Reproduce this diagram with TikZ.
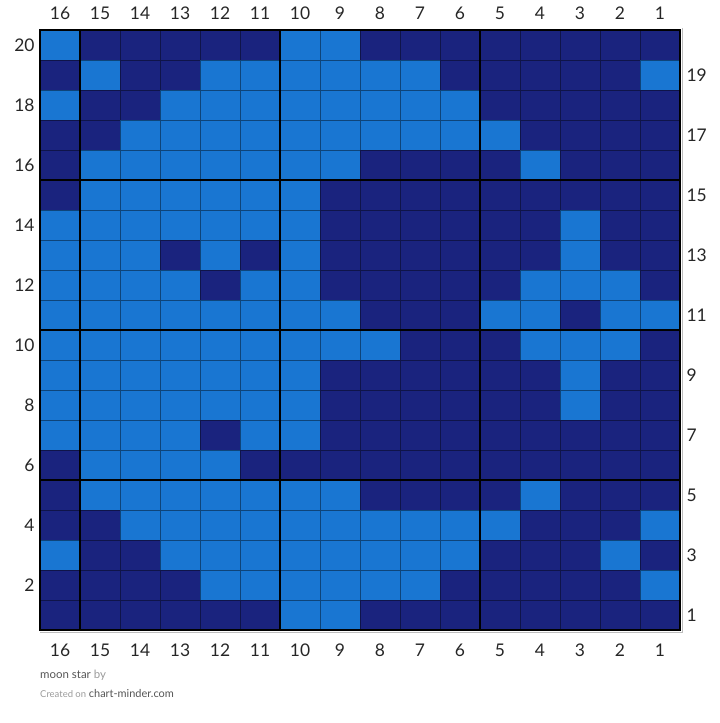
\documentclass[tikz,border=0pt]{standalone}
\usepackage{fontspec}
\setmainfont{Lato}
\definecolor{cellL}{HTML}{1976D2}
\definecolor{cellD}{HTML}{1A237E}
\definecolor{footgrey}{HTML}{555555}
\definecolor{footfaint}{HTML}{9A9A9A}
\definecolor{edgegrey}{HTML}{BDBDBD}
\begin{document}
\begin{tikzpicture}[x=1bp, y=-1bp,
    cell/.style={draw=black, draw opacity=0.42, line width=0.9bp},
    major/.style={black, line width=2.4bp},
    axis/.style={font=\fontsize{17.5}{17.5}\selectfont, text=black!85}]
  \useasboundingbox (0,0) rectangle (720,723);
  % cells, row 20 at the top, column 16 on the left
  \foreach \cells [count=\i] in {
      {L,D,D,D,D,D,L,L,D,D,D,D,D,D,D,D},
      {D,L,D,D,L,L,L,L,L,L,D,D,D,D,D,L},
      {L,D,D,L,L,L,L,L,L,L,L,D,D,D,D,D},
      {D,D,L,L,L,L,L,L,L,L,L,L,D,D,D,D},
      {D,L,L,L,L,L,L,L,D,D,D,D,L,D,D,D},
      {D,L,L,L,L,L,L,D,D,D,D,D,D,D,D,D},
      {L,L,L,L,L,L,L,D,D,D,D,D,D,L,D,D},
      {L,L,L,D,L,D,L,D,D,D,D,D,D,L,D,D},
      {L,L,L,L,D,L,L,D,D,D,D,D,L,L,L,D},
      {L,L,L,L,L,L,L,L,D,D,D,L,L,D,L,L},
      {L,L,L,L,L,L,L,L,L,D,D,D,L,L,L,D},
      {L,L,L,L,L,L,L,D,D,D,D,D,D,L,D,D},
      {L,L,L,L,L,L,L,D,D,D,D,D,D,L,D,D},
      {L,L,L,L,D,L,L,D,D,D,D,D,D,D,D,D},
      {D,L,L,L,L,D,D,D,D,D,D,D,D,D,D,D},
      {D,L,L,L,L,L,L,L,D,D,D,D,L,D,D,D},
      {D,D,L,L,L,L,L,L,L,L,L,L,D,D,D,L},
      {L,D,D,L,L,L,L,L,L,L,L,D,D,D,L,D},
      {D,D,D,D,L,L,L,L,L,L,D,D,D,D,D,L},
      {D,D,D,D,D,D,L,L,D,D,D,D,D,D,D,D}}{%
    \foreach \c [count=\j] in \cells{%
      \filldraw[cell, fill=cell\c] (\j*40,\i*30) rectangle ++(40,30);}}
  % frame and the heavy lines every five
  \draw[edgegrey, line width=1bp] (682,28) -- (682,632) -- (40,632);
  \foreach \x in {80,280,480}
    \draw[major] (\x,30) -- (\x,630);
  \foreach \y in {180,330,480}
    \draw[major] (40,\y) -- (680,\y);
  \draw[major] (40,30) rectangle (680,630);
  % column numbers
  \foreach \j in {1,...,16}{%
    \pgfmathtruncatemacro{\lab}{17-\j}
    \node[axis] (top\lab) at (\j*40+20,13) {\lab};
    \node[axis] (bot\lab) at (\j*40+20,650) {\lab};}
  % row numbers, even left and odd right
  \foreach \i in {1,...,20}{%
    \pgfmathtruncatemacro{\n}{21-\i}
    \ifodd\n
      \node[axis, anchor=west] (row\n) at (683,\i*30+15) {\n};
    \else
      \node[axis, anchor=east] (row\n) at (38,\i*30+15) {\n};
    \fi}
  % footer
  \node[anchor=base west, inner sep=0, font=\fontsize{11.5}{11.5}\selectfont]
    (title) at (40,678) {\textcolor{footgrey}{moon star} \textcolor{footfaint}{by}};
  \node[anchor=base west, inner sep=0, font=\fontsize{11}{11}\selectfont]
    (credit) at (40,697) {{\fontsize{9.5}{9.5}\selectfont\textcolor{footfaint}{Created on}}
    \textcolor{footgrey}{chart-minder.com}};
\end{tikzpicture}
\end{document}
